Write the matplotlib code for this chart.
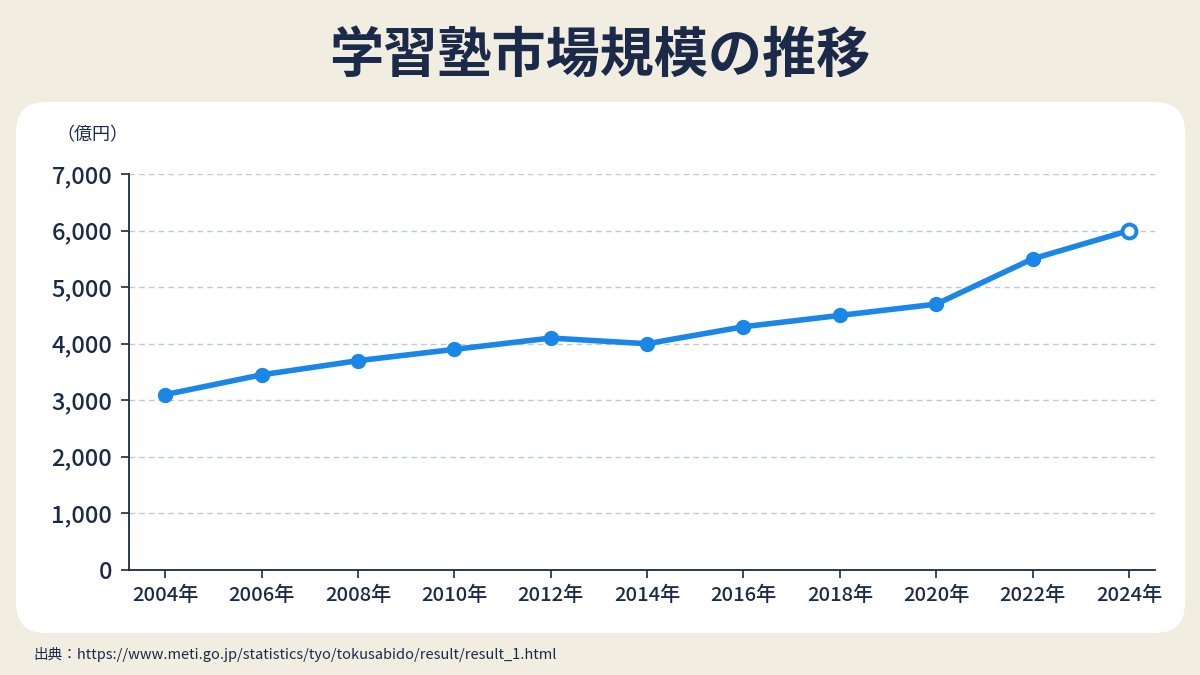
import matplotlib.pyplot as plt
from matplotlib.patches import FancyBboxPatch

plt.rcParams['font.family'] = ['Noto Sans CJK JP', 'DejaVu Sans']

years = [2004, 2006, 2008, 2010, 2012, 2014, 2016, 2018, 2020, 2022, 2024]
market_size = [3100, 3450, 3700, 3900, 4100, 4000, 4300, 4500, 4700, 5500, 6000]
year_labels = [f"{y}年" for y in years]
y_ticks = [0, 1000, 2000, 3000, 4000, 5000, 6000, 7000]

navy = '#1b2a48'
blue = '#1a86e8'

fig = plt.figure(figsize=(12, 6.75), dpi=100)
fig.patch.set_facecolor('#f1ede1')

# white rounded panel behind the axes
panel = FancyBboxPatch((16 / 1200, 1 - 633 / 675), (1185 - 16) / 1200, (633 - 102) / 675,
                       boxstyle="round,pad=0,rounding_size=0.025",
                       transform=fig.transFigure, facecolor='white', edgecolor='none',
                       mutation_aspect=1200 / 675, zorder=-5)
fig.patches.append(panel)

fig.text(0.5, 1 - 57 / 675, '学習塾市場規模の推移', ha='center', va='center',
         fontsize=39, fontweight='bold', color=navy)

ax = fig.add_axes([129 / 1200, 1 - 570 / 675, (1155 - 129) / 1200, (570 - 174) / 675])
ax.set_facecolor('none')

ax.plot(years, market_size, color=blue, linewidth=4, zorder=3, clip_on=False)
ax.plot(years[:-1], market_size[:-1], 'o', color=blue, markersize=10, zorder=4, clip_on=False)
ax.plot(years[-1:], market_size[-1:], 'o', markerfacecolor='white', markeredgecolor=blue,
        markeredgewidth=2.8, markersize=10, zorder=4, clip_on=False)

ax.set_xlim(2003.25, 2024.54)
ax.set_ylim(0, 7000)
ax.set_xticks(years)
ax.set_xticklabels(year_labels)
ax.set_yticks(y_ticks)
ax.set_yticklabels([f"{v:,}" for v in y_ticks])

for v in y_ticks[1:]:
    ax.axhline(v, color='#bfc9d3', linestyle=(0, (4, 3)), linewidth=1, zorder=1)

for side in ['top', 'right']:
    ax.spines[side].set_visible(False)
for side in ['left', 'bottom']:
    ax.spines[side].set_color(navy)
    ax.spines[side].set_linewidth(1.3)

ax.tick_params(axis='y', labelsize=17, colors=navy, length=6, width=1.2, pad=6)
ax.tick_params(axis='x', labelsize=14.5, colors=navy, length=6, width=1.2, pad=5)
for lbl in ax.get_yticklabels() + ax.get_xticklabels():
    lbl.set_fontweight('medium')

fig.text(92 / 1200, 1 - 135 / 675, '（億円）', ha='center', va='center',
         fontsize=13, color=navy)

fig.text(33 / 1200, 1 - 655 / 675, '出典：https://www.meti.go.jp/statistics/tyo/tokusabido/result/result_1.html',
         ha='left', va='center', fontsize=10.5, color=navy)

fig.savefig('out.png', dpi=100, facecolor=fig.get_facecolor())
